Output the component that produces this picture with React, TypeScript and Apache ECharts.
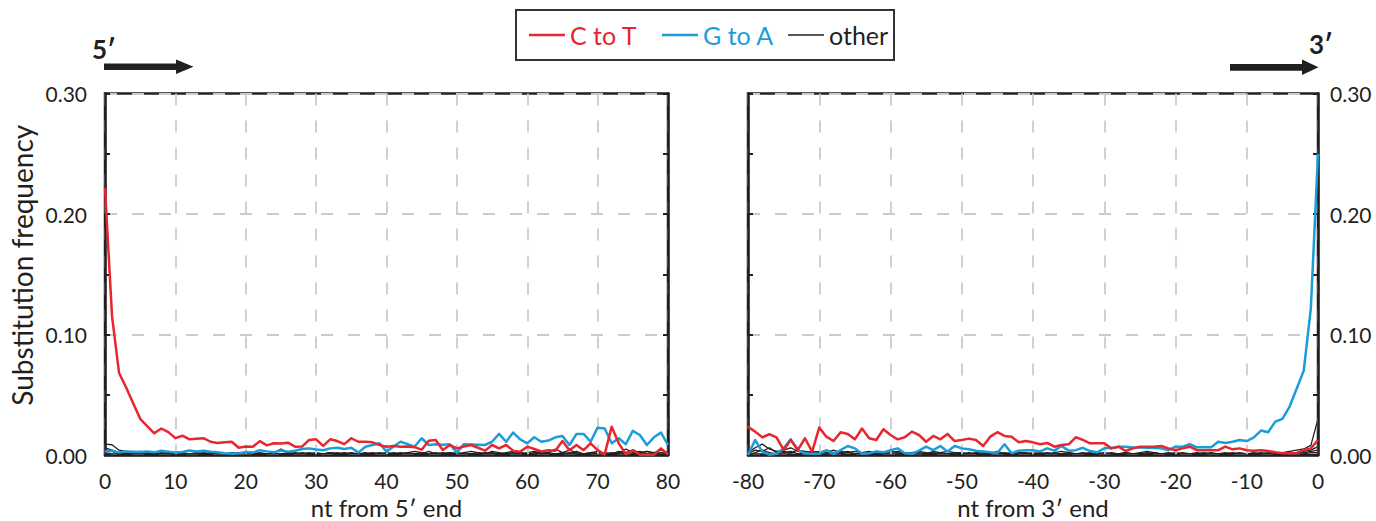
import React, { useEffect, useRef } from "react";
import * as echarts from "echarts";

const FONT = "Lato, 'Open Sans', sans-serif";
const INK = "#231f20";
const RED = "#e8262d";
const BLUE = "#1a9dd9";
const GRIDC = "#c9cbd3";

// ---- tick labels ----
const leftTicks = [0, 10, 20, 30, 40, 50, 60, 70, 80];
const rightTicks = [-80, -70, -60, -50, -40, -30, -20, -10, 0];
const yTicks = [0, 0.1, 0.2, 0.3];

// ---- 5' end (positions 0..80) ----
const leftCtoT = [
  0.222, 0.115, 0.068, 0.056, 0.043, 0.03, 0.024, 0.018, 0.022, 0.019,
  0.014, 0.016, 0.013, 0.0135, 0.014, 0.011, 0.01, 0.0105, 0.011, 0.006,
  0.007, 0.0068, 0.0115, 0.008, 0.0097, 0.0095, 0.0102, 0.0069, 0.007, 0.0125,
  0.013, 0.0075, 0.013, 0.0116, 0.009, 0.0139, 0.011, 0.011, 0.0105, 0.0083,
  0.0069, 0.0075, 0.0069, 0.007, 0.0065, 0.0044, 0.0119, 0.0125, 0.0042, 0.0083,
  0.0055, 0.007, 0.0083, 0.006, 0.0036, 0.0083, 0.0055, 0.0083, 0.0036, 0.0028,
  0.0069, 0.005, 0.003, 0.004, 0.0036, 0.0116, 0.004, 0.0083, 0.004, 0.0097,
  0.004, 0.0005, 0.0235, 0.0097, 0.0008, 0.004, 0.0003, 0.0003, 0.0003, 0.0055,
  0.0003,
];
const leftGtoA = [
  0.003, 0.0035, 0.002, 0.003, 0.0028, 0.0025, 0.003, 0.0022, 0.0035, 0.0028,
  0.002, 0.0025, 0.0038, 0.003, 0.0036, 0.0028, 0.0022, 0.0015, 0.001, 0.0012,
  0.0025, 0.002, 0.004, 0.003, 0.0022, 0.0038, 0.0028, 0.0035, 0.005, 0.0055,
  0.0045, 0.004, 0.0055, 0.006, 0.005, 0.006, 0.002, 0.0069, 0.0083, 0.0097,
  0.0028, 0.007, 0.011, 0.009, 0.007, 0.0139, 0.0083, 0.009, 0.0085, 0.0089,
  0.002, 0.009, 0.0088, 0.0085, 0.0083, 0.011, 0.0175, 0.011, 0.0186, 0.013,
  0.0097, 0.0147, 0.011, 0.012, 0.0147, 0.0158, 0.0083, 0.0175, 0.0175, 0.011,
  0.0227, 0.022, 0.0097, 0.0139, 0.0089, 0.02, 0.0166, 0.0083, 0.0147, 0.0186,
  0.0083,
];
const leftOtherA = [
  0.009, 0.0085, 0.004, 0.003, 0.002, 0.003, 0.002, 0.001, 0.002, 0.001,
  0.002, 0.001, 0.001, 0.002, 0.001, 0.001, 0.002, 0.001, 0.001, 0.002,
  0.001, 0.002, 0.001, 0.001, 0.002, 0.005, 0.002, 0.001, 0.002, 0.001,
  0.002, 0.001, 0.002, 0.001, 0.001, 0.002, 0.001, 0.002, 0.001, 0.002,
  0.001, 0.002, 0.001, 0.002, 0.003, 0.002, 0.001, 0.002, 0.001, 0.002,
  0.001, 0.002, 0.003, 0.002, 0.001, 0.002, 0.001, 0.002, 0.003, 0.002,
  0.001, 0.002, 0.003, 0.002, 0.001, 0.002, 0.004, 0.002, 0.001, 0.002,
  0.001, 0.002, 0.001, 0.003, 0.002, 0.004, 0.002, 0.003, 0.002, 0.004,
  0.002,
];
const leftOtherB = [
  0.006, 0.004, 0.002, 0.001, 0.002, 0.001, 0.001, 0.002, 0.001, 0.001,
  0.001, 0.002, 0.001, 0.001, 0.001, 0.002, 0.001, 0.001, 0.002, 0.001,
  0.001, 0.001, 0.002, 0.001, 0.001, 0.001, 0.002, 0.001, 0.001, 0.002,
  0.001, 0.001, 0.002, 0.001, 0.002, 0.001, 0.001, 0.001, 0.002, 0.001,
  0.002, 0.001, 0.001, 0.002, 0.001, 0.001, 0.003, 0.001, 0.002, 0.001,
  0.002, 0.001, 0.001, 0.002, 0.001, 0.003, 0.002, 0.001, 0.002, 0.001,
  0.002, 0.003, 0.001, 0.002, 0.005, 0.002, 0.001, 0.003, 0.001, 0.002,
  0.003, 0.001, 0.002, 0.001, 0.005, 0.002, 0.001, 0.003, 0.001, 0.002,
  0.001,
];
const leftOtherC = [
  0.004, 0.003, 0.001, 0.002, 0.001, 0.001, 0.001, 0.001, 0.001, 0.002,
  0.001, 0.001, 0.001, 0.001, 0.002, 0.001, 0.001, 0.001, 0.001, 0.001,
  0.002, 0.001, 0.001, 0.001, 0.001, 0.001, 0.001, 0.002, 0.001, 0.001,
  0.001, 0.001, 0.001, 0.002, 0.001, 0.001, 0.001, 0.001, 0.001, 0.001,
  0.001, 0.001, 0.002, 0.001, 0.001, 0.002, 0.001, 0.001, 0.001, 0.002,
  0.001, 0.001, 0.001, 0.001, 0.002, 0.001, 0.001, 0.001, 0.001, 0.002,
  0.001, 0.001, 0.002, 0.001, 0.001, 0.001, 0.002, 0.001, 0.001, 0.001,
  0.002, 0.001, 0.001, 0.002, 0.001, 0.001, 0.003, 0.001, 0.001, 0.002,
  0.001,
];
const leftOtherD = [
  0.002, 0.001, 0.001, 0.0, 0.001, 0.0, 0.001, 0.0, 0.001, 0.0,
  0.0, 0.001, 0.0, 0.0, 0.001, 0.0, 0.0, 0.001, 0.0, 0.0,
  0.001, 0.0, 0.0, 0.001, 0.0, 0.0, 0.001, 0.0, 0.0, 0.001,
  0.0, 0.0, 0.001, 0.0, 0.0, 0.001, 0.0, 0.0, 0.001, 0.0,
  0.0, 0.001, 0.0, 0.0, 0.001, 0.0, 0.0, 0.001, 0.0, 0.001,
  0.0, 0.0, 0.001, 0.0, 0.0, 0.001, 0.0, 0.001, 0.0, 0.0,
  0.001, 0.0, 0.0, 0.001, 0.0, 0.001, 0.0, 0.0, 0.001, 0.0,
  0.0, 0.001, 0.0, 0.001, 0.0, 0.0, 0.001, 0.0, 0.001, 0.0,
  0.001,
];

// ---- 3' end (positions -80..0) ----
const rightCtoT = [
  0.0235, 0.0194, 0.0147, 0.0172, 0.0147, 0.0042, 0.0125, 0.0042, 0.0139, 0.0028,
  0.0227, 0.0152, 0.0116, 0.0189, 0.0175, 0.013, 0.022, 0.0139, 0.0125, 0.0214,
  0.0166, 0.013, 0.0147, 0.0194, 0.0166, 0.011, 0.0158, 0.013, 0.0175, 0.0116,
  0.0125, 0.0136, 0.0125, 0.0075, 0.0152, 0.0189, 0.0158, 0.0152, 0.0105, 0.0116,
  0.0105, 0.0089, 0.01, 0.0069, 0.0083, 0.0089, 0.0147, 0.0125, 0.0097, 0.0097,
  0.0097, 0.0055, 0.0069, 0.0033, 0.0055, 0.0069, 0.0069, 0.0069, 0.0075, 0.0055,
  0.004, 0.0055, 0.0069, 0.004, 0.004, 0.004, 0.004, 0.0069, 0.0047, 0.0055,
  0.004, 0.0036, 0.004, 0.0033, 0.0022, 0.0014, 0.0014, 0.0017, 0.004, 0.0055,
  0.0125,
];
const rightGtoA = [
  0.0, 0.0125, 0.0028, 0.0003, 0.001, 0.0055, 0.013, 0.004, 0.0014, 0.001,
  0.001, 0.004, 0.001, 0.004, 0.0075, 0.0055, 0.001, 0.0014, 0.003, 0.0022,
  0.004, 0.0055, 0.0014, 0.001, 0.0036, 0.0069, 0.004, 0.0075, 0.003, 0.0075,
  0.0055, 0.0047, 0.0036, 0.003, 0.0022, 0.0017, 0.0089, 0.0014, 0.0036, 0.004,
  0.004, 0.003, 0.0055, 0.0036, 0.0075, 0.0036, 0.004, 0.006, 0.0033, 0.0022,
  0.0055, 0.0058, 0.0069, 0.0069, 0.0062, 0.0062, 0.006, 0.0058, 0.0055, 0.004,
  0.0069, 0.0069, 0.0089, 0.0064, 0.0064, 0.0064, 0.011, 0.01, 0.011, 0.0125,
  0.0116, 0.0147, 0.0203, 0.0189, 0.0277, 0.03, 0.04, 0.055, 0.07, 0.122,
  0.25,
];
const rightOtherA = [
  0.002, 0.006, 0.009, 0.005, 0.003, 0.004, 0.006, 0.003, 0.002, 0.003,
  0.002, 0.004, 0.002, 0.003, 0.002, 0.003, 0.002, 0.001, 0.003, 0.002,
  0.003, 0.002, 0.001, 0.002, 0.003, 0.002, 0.001, 0.002, 0.003, 0.002,
  0.002, 0.001, 0.002, 0.003, 0.002, 0.001, 0.002, 0.001, 0.002, 0.002,
  0.001, 0.002, 0.001, 0.002, 0.003, 0.002, 0.001, 0.002, 0.001, 0.002,
  0.001, 0.002, 0.001, 0.002, 0.001, 0.002, 0.003, 0.002, 0.001, 0.002,
  0.001, 0.002, 0.001, 0.002, 0.001, 0.002, 0.001, 0.002, 0.001, 0.002,
  0.001, 0.002, 0.001, 0.002, 0.001, 0.002, 0.003, 0.004, 0.005, 0.008,
  0.03,
];
const rightOtherB = [
  0.001, 0.004, 0.003, 0.006, 0.002, 0.003, 0.002, 0.004, 0.003, 0.002,
  0.003, 0.002, 0.004, 0.002, 0.003, 0.001, 0.002, 0.003, 0.002, 0.001,
  0.002, 0.003, 0.002, 0.001, 0.002, 0.001, 0.003, 0.002, 0.001, 0.002,
  0.001, 0.002, 0.001, 0.002, 0.001, 0.003, 0.001, 0.002, 0.001, 0.001,
  0.002, 0.001, 0.002, 0.001, 0.001, 0.002, 0.001, 0.001, 0.002, 0.001,
  0.002, 0.001, 0.001, 0.002, 0.001, 0.001, 0.002, 0.001, 0.001, 0.001,
  0.002, 0.001, 0.001, 0.001, 0.002, 0.001, 0.001, 0.001, 0.002, 0.001,
  0.001, 0.001, 0.002, 0.001, 0.001, 0.002, 0.001, 0.002, 0.003, 0.004,
  0.007,
];
const rightOtherC = [
  0.0, 0.002, 0.004, 0.002, 0.001, 0.002, 0.003, 0.001, 0.002, 0.001,
  0.001, 0.002, 0.001, 0.001, 0.002, 0.001, 0.001, 0.002, 0.001, 0.001,
  0.001, 0.001, 0.002, 0.001, 0.001, 0.001, 0.002, 0.001, 0.001, 0.001,
  0.001, 0.001, 0.001, 0.001, 0.002, 0.001, 0.001, 0.001, 0.001, 0.001,
  0.001, 0.001, 0.001, 0.001, 0.001, 0.001, 0.001, 0.001, 0.001, 0.001,
  0.001, 0.001, 0.001, 0.001, 0.001, 0.001, 0.001, 0.002, 0.001, 0.001,
  0.001, 0.001, 0.001, 0.001, 0.001, 0.001, 0.001, 0.001, 0.001, 0.001,
  0.001, 0.001, 0.001, 0.001, 0.001, 0.001, 0.001, 0.002, 0.002, 0.003,
  0.004,
];
const rightOtherD = [
  0.0, 0.001, 0.001, 0.001, 0.0, 0.001, 0.001, 0.0, 0.001, 0.0,
  0.0, 0.001, 0.0, 0.001, 0.0, 0.0, 0.001, 0.0, 0.0, 0.001,
  0.0, 0.0, 0.001, 0.0, 0.0, 0.001, 0.0, 0.0, 0.001, 0.0,
  0.0, 0.001, 0.0, 0.0, 0.001, 0.0, 0.0, 0.001, 0.0, 0.0,
  0.001, 0.0, 0.0, 0.001, 0.0, 0.0, 0.001, 0.0, 0.0, 0.001,
  0.0, 0.0, 0.001, 0.0, 0.0, 0.001, 0.0, 0.0, 0.001, 0.0,
  0.0, 0.001, 0.0, 0.0, 0.001, 0.0, 0.0, 0.001, 0.0, 0.0,
  0.001, 0.0, 0.0, 0.001, 0.0, 0.0, 0.001, 0.001, 0.001, 0.002,
  0.002,
];

const leftPositions = leftCtoT.map((_, i) => leftTicks[0] + i);
const rightPositions = rightCtoT.map((_, i) => rightTicks[0] + i);

const pairs = (pos: number[], vals: number[]) => vals.map((v, i) => [pos[i], v]);

const dashed = { type: [12, 15] as any, color: GRIDC, width: 1.8 };

function lineSeries(name: string, pos: number[], vals: number[], grid: number, color: string, width: number, z: number) {
  return {
    type: "line",
    name,
    xAxisIndex: grid,
    yAxisIndex: grid * 2,
    data: pairs(pos, vals),
    symbol: "none",
    silent: true,
    z,
    lineStyle: { color, width, join: "round" },
    itemStyle: { color },
    emphasis: { disabled: true },
  };
}

function xAxisFor(grid: number, ticks: number[], name: string) {
  return {
    gridIndex: grid,
    type: "value",
    min: ticks[0],
    max: ticks[ticks.length - 1],
    interval: ticks[1] - ticks[0],
    name,
    nameLocation: "middle",
    nameGap: 35,
    nameTextStyle: { fontSize: 24, color: INK, fontFamily: FONT, lineHeight: 24 },
    axisLine: { show: true, onZero: false, lineStyle: { color: INK, width: 2.5 } },
    axisTick: { show: false },
    axisLabel: { fontSize: 21, color: INK, fontFamily: FONT, margin: 15 },
    splitLine: { show: true, lineStyle: dashed },
    z: 3,
  };
}

function yAxisFor(grid: number, position: "left" | "right", labels: boolean, extra: any = {}) {
  return {
    gridIndex: grid,
    type: "value",
    position,
    min: yTicks[0],
    max: yTicks[yTicks.length - 1],
    interval: yTicks[1] - yTicks[0],
    axisLine: { show: true, onZero: false, lineStyle: { color: INK, width: 2.5 } },
    axisTick: { show: true, inside: true, length: 5, lineStyle: { color: INK, width: 2 } },
    minorTick: { show: true, splitNumber: 2, length: 5, lineStyle: { color: INK, width: 2 } },
    axisLabel: {
      show: labels,
      fontSize: 21,
      color: INK,
      fontFamily: FONT,
      margin: position === "left" ? 18 : 12,
      formatter: (v: number) => v.toFixed(2),
    },
    splitLine: { show: labels, lineStyle: dashed },
    z: 3,
    ...extra,
  };
}

function legendFor(name: string, left: number, color: string, thickness: number) {
  return {
    data: [{ name, icon: "rect", textStyle: { color } }],
    left,
    top: 21,
    padding: 0,
    itemWidth: 36,
    itemHeight: thickness,
    itemGap: 0,
    selectedMode: false,
    itemStyle: { color },
    textStyle: { fontSize: 25, fontFamily: FONT, color, lineHeight: 28 },
  };
}

export default function App() {
  const ref = useRef<HTMLDivElement>(null);
  useEffect(() => {
    if (!ref.current) return;
    const chart = echarts.init(ref.current, undefined, { renderer: "svg" });
    const option: any = {
      animation: false,
      backgroundColor: "#ffffff",
      textStyle: { fontFamily: FONT },
      grid: [
        { left: 105, top: 93.5, width: 563, height: 361.5, show: true, borderColor: INK, borderWidth: 2.5, backgroundColor: "transparent", outerBoundsMode: "none", containLabel: false },
        { left: 748, top: 93.5, width: 570, height: 361.5, show: true, borderColor: INK, borderWidth: 2.5, backgroundColor: "transparent", outerBoundsMode: "none", containLabel: false },
      ],
      xAxis: [
        xAxisFor(0, leftTicks, "nt from 5\u2032 end"),
        xAxisFor(1, rightTicks, "nt from 3\u2032 end"),
      ],
      yAxis: [
        yAxisFor(0, "left", true, {
          name: "Substitution frequency",
          nameLocation: "middle",
          nameRotate: 90,
          nameGap: 69,
          nameTextStyle: { fontSize: 28, color: INK, fontFamily: FONT, padding: [0, 0, 0, 18] },
        }),
        yAxisFor(0, "right", false),
        yAxisFor(1, "right", true),
        yAxisFor(1, "left", false),
      ],
      legend: [
        legendFor("C to T", 529, RED, 2.6),
        legendFor("G to A", 662, BLUE, 2.6),
        legendFor("other", 788, INK, 1.3),
      ],
      graphic: [
        {
          type: "rect",
          shape: { x: 516, y: 10, width: 378, height: 50 },
          style: { fill: "none", stroke: "#333333", lineWidth: 2 },
          silent: true,
        },
        {
          type: "polygon",
          shape: { points: [[104, 63.5], [176, 63.5], [176, 59.5], [193.5, 66.8], [176, 74], [176, 70], [104, 70]] },
          style: { fill: INK },
          silent: true,
        },
        {
          type: "polygon",
          shape: { points: [[1230, 64], [1302, 64], [1302, 59.5], [1318.5, 67.3], [1302, 75], [1302, 70.7], [1230, 70.7]] },
          style: { fill: INK },
          silent: true,
        },
        {
          type: "text",
          style: { text: "5\u2032", x: 92, y: 49, fill: INK, font: `bold 26px ${FONT}`, verticalAlign: "middle", align: "left" },
          silent: true,
        },
        {
          type: "text",
          style: { text: "3\u2032", x: 1309, y: 44, fill: INK, font: `bold 26px ${FONT}`, verticalAlign: "middle", align: "left" },
          silent: true,
        },
      ],
      series: [
        lineSeries("other", leftPositions, leftOtherA, 0, INK, 1.3, 2),
        lineSeries("other", leftPositions, leftOtherB, 0, INK, 1.3, 2),
        lineSeries("other", leftPositions, leftOtherC, 0, INK, 1.3, 2),
        lineSeries("other", leftPositions, leftOtherD, 0, INK, 1.3, 2),
        lineSeries("other", rightPositions, rightOtherA, 1, INK, 1.3, 2),
        lineSeries("other", rightPositions, rightOtherB, 1, INK, 1.3, 2),
        lineSeries("other", rightPositions, rightOtherC, 1, INK, 1.3, 2),
        lineSeries("other", rightPositions, rightOtherD, 1, INK, 1.3, 2),
        lineSeries("G to A", leftPositions, leftGtoA, 0, BLUE, 2.5, 4),
        lineSeries("G to A", rightPositions, rightGtoA, 1, BLUE, 2.5, 4),
        lineSeries("C to T", leftPositions, leftCtoT, 0, RED, 2.5, 5),
        lineSeries("C to T", rightPositions, rightCtoT, 1, RED, 2.5, 5),
      ],
    };
    chart.setOption(option);
    return () => chart.dispose();
  }, []);
  return (
    <div
      ref={ref}
      style={{ position: "absolute", left: 0, top: 0, width: 1376, height: 521, background: "#fff" }}
    />
  );
}
